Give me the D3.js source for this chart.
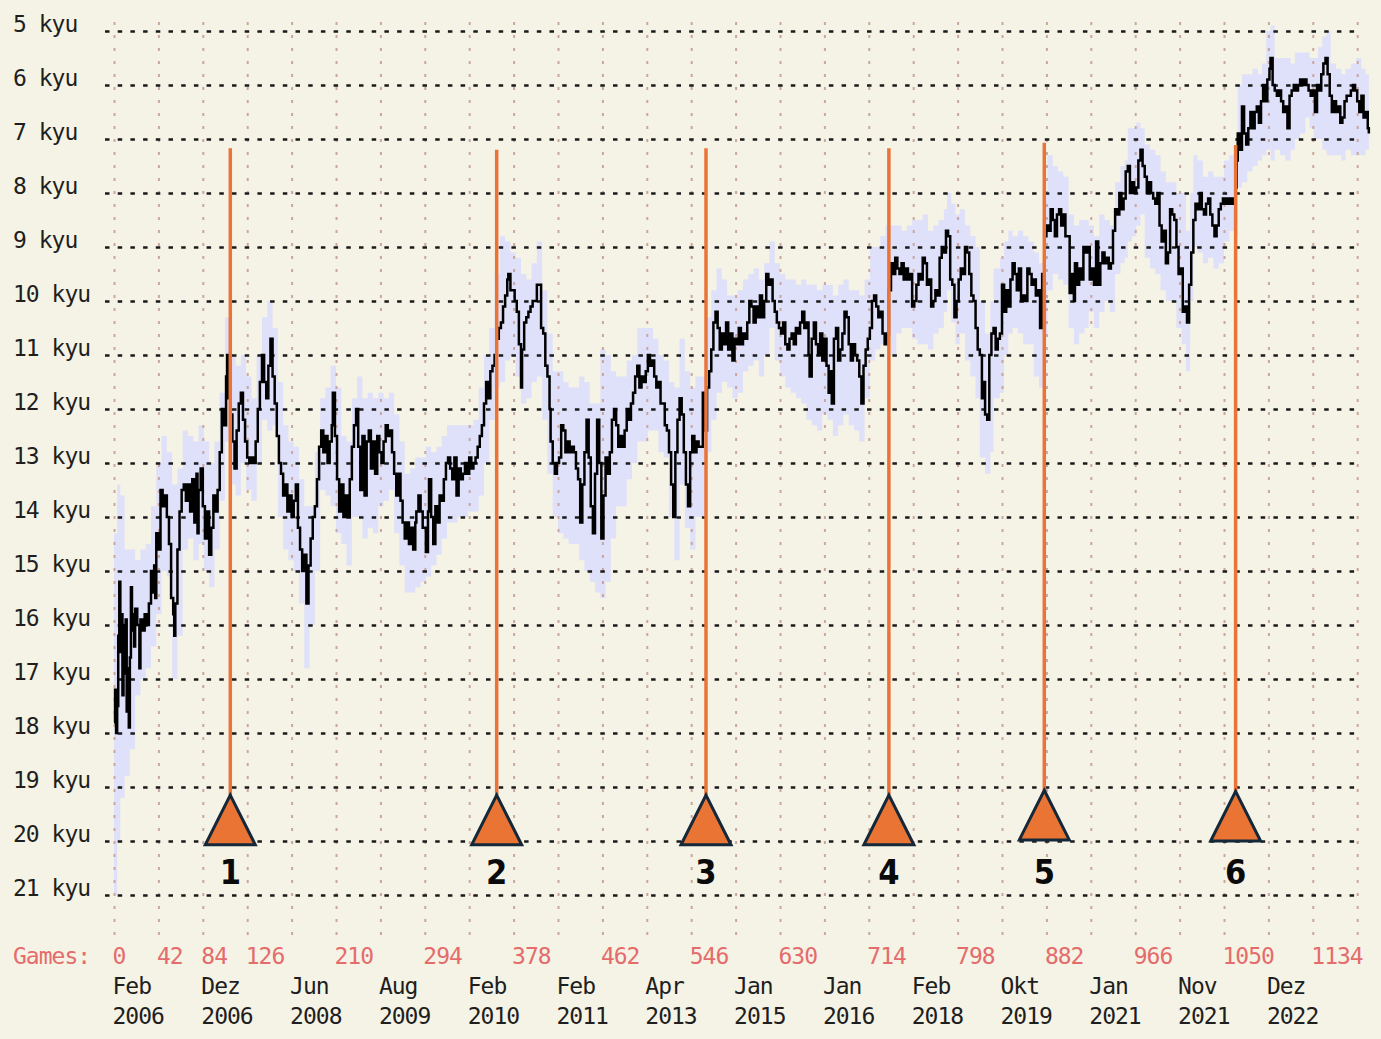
<!DOCTYPE html>
<html>
<head>
<meta charset="utf-8">
<script src="https://cdn.jsdelivr.net/npm/d3@7"></script>
<style>
	body { margin: 0; background: #f5f3e5; }
	svg { display: block; }
	.lbl { font-family: "DejaVu Sans Mono", monospace; font-size: 23px; letter-spacing: -1px; }
</style>
</head>
<body>
<div id="graphicContainer"></div>
<script>

// rank history: [game number, rank in kyu]
var rating = [
	[0,17.8],[1,17.2],[2,18.0],[3,17.5],[4,16.2],[5,15.2],[6,16.5],[7,15.8],[8,17.3],[9,16.0],[10,16.9],[11,15.9],[12,17.6],[13,16.8],[14,17.9],[15,16.6],[16,15.3],[17,16.1],[18,15.8],[19,16.4],[20,15.7],[22,16.0],[24,16.8],[25,15.9],[27,16.1],[29,15.8],[31,16.0],[33,15.6],[35,15.0],[36,15.4],[38,14.9],[39,15.5],[40,14.3],[42,14.6],[44,13.5],[46,13.8],[48,13.6],[50,14.0],[52,14.5],[54,15.5],[56,15.8],[57,16.2],[58,15.6],[60,14.6],[62,13.9],[64,13.5],[66,13.4],[68,13.7],[70,13.4],[72,13.9],[74,13.3],[76,14.1],[78,13.2],[79,14.3],[80,13.5],[82,13.1],[84,13.8],[86,14.4],[88,13.9],[90,14.7],[92,14.2],[94,13.6],[96,13.9],[98,13.5],
	[100,12.8],[102,12.0],[104,12.3],[106,11.4],[107,11.0],[108,11.8],[110,12.1],[112,12.6],[114,13.1],[116,12.4],[118,11.9],[120,11.7],[122,12.2],[124,12.6],[126,12.9],[128,13.0],[130,12.9],[132,13.0],[134,12.6],[136,12.0],[138,11.5],[140,11.0],[142,11.5],[144,11.8],[146,11.2],[148,10.7],[150,11.4],[152,11.9],[154,12.5],[156,13.0],[158,13.2],[160,13.6],[162,13.4],[164,13.9],[166,13.6],[168,14.0],[170,13.7],[172,13.4],[174,14.2],[176,14.6],[178,15.0],[180,14.7],[182,15.6],[184,14.9],[186,14.4],[188,14.0],[190,13.8],[192,13.3],[194,12.7],[196,12.4],[198,12.8],
	[200,12.5],[202,13.0],[204,12.6],[206,12.3],[207,11.7],[209,12.5],[211,13.3],[213,13.9],[215,13.4],[217,14.0],[219,13.6],[221,14.0],[223,13.3],[225,12.7],[227,12.3],[229,12.0],[231,12.7],[233,13.5],[235,12.5],[237,13.6],[239,12.6],[241,12.4],[243,13.1],[245,12.6],[247,13.2],[249,12.5],[251,12.8],[253,13.0],[255,12.6],[257,12.3],[259,12.5],[261,12.4],[263,12.8],[265,13.2],[267,13.6],[269,13.2],[271,13.7],[273,14.1],[275,14.4],[277,14.1],[279,14.5],[281,14.2],[283,14.6],[285,14.1],[286,13.9],[288,13.6],[290,13.9],[292,14.2],[295,14.65],[297,13.9],[298,13.3],
	[300,14.0],[302,14.5],[304,13.8],[306,14.1],[308,13.6],[310,13.7],[312,13.3],[314,13.0],[316,12.9],[318,13.1],[320,13.3],[322,12.9],[324,13.6],[326,13.1],[328,13.3],[330,13.2],[332,13.0],[334,13.2],[336,12.9],[338,13.1],[340,13.0],[342,12.9],[344,12.7],[346,12.5],[348,12.3],[350,11.9],[352,11.5],[354,11.8],[356,11.3],[358,11.2],[360,11.0],[362,10.7],[364,10.5],[366,10.4],[368,10.1],[370,9.9],[372,9.6],[373,9.5],[375,9.8],[377,9.8],[379,10.0],[381,10.2],[383,10.8],[385,11.6],[386,10.9],[388,10.4],[390,10.3],[392,10.2],[394,10.1],[396,10.0],[398,10.0],
	[400,9.7],[402,9.7],[404,10.5],[406,10.6],[408,11.2],[410,11.4],[412,12.0],[413,12.6],[415,13.0],[417,13.2],[419,13.0],[421,12.9],[423,12.3],[425,12.4],[427,12.8],[429,12.6],[431,12.8],[433,12.7],[435,12.8],[437,13.1],[439,13.3],[441,14.1],[443,13.4],[445,12.8],[447,12.2],[449,12.9],[451,13.8],[453,14.3],[455,13.2],[457,12.2],[459,13.0],[461,14.4],[463,13.6],[465,12.9],[467,13.2],[469,12.8],[471,12.2],[473,12.0],[475,12.3],[477,12.7],[479,12.5],[481,12.7],[483,12.4],[485,12.0],[487,12.2],[489,11.9],[491,11.7],[493,11.4],[495,11.2],[497,11.6],[499,11.4],
	[501,11.5],[503,11.3],[505,11.0],[507,11.2],[509,11.1],[511,11.4],[513,11.6],[515,11.5],[517,11.9],[519,11.9],[521,12.3],[523,12.4],[525,12.8],[527,13.4],[529,14.0],[531,12.8],[533,12.2],[535,11.8],[537,12.1],[539,12.8],[541,13.4],[543,13.8],[545,12.8],[547,12.5],[549,12.8],[551,12.6],[553,12.7],[555,12.7],[557,11.7],[559,12.4],[561,11.6],[563,11.3],[565,10.9],[567,10.4],[569,10.2],[571,10.5],[573,10.9],[575,10.6],[577,10.8],[579,10.4],[581,10.9],[583,10.6],[585,11.1],[587,10.7],[589,10.8],[591,10.5],[593,10.8],[595,10.6],[597,10.7],[599,10.4],
	[601,10.0],[603,10.1],[605,10.4],[607,10.1],[609,10.3],[611,9.9],[613,10.3],[615,10.0],[617,9.5],[619,9.7],[621,9.6],[623,10.0],[625,10.2],[627,10.4],[629,10.5],[631,10.6],[633,10.4],[635,10.8],[637,10.9],[639,10.7],[641,10.6],[643,10.8],[645,10.5],[647,10.6],[649,10.4],[651,10.2],[653,10.5],[655,10.4],[657,11.0],[658,11.4],[660,10.7],[662,10.4],[664,10.8],[666,11.0],[668,10.6],[670,11.1],[672,10.7],[674,11.2],[676,11.7],[678,11.3],[679,11.9],[681,10.7],[683,10.5],[685,11.1],[687,10.9],[689,10.6],[691,10.2],[693,10.3],[695,10.8],[697,11.1],[699,10.8],
	[701,11.0],[703,11.1],[705,11.4],[707,11.9],[709,11.2],[711,10.9],[713,10.7],[715,10.5],[717,10.0],[719,9.9],[721,10.1],[723,10.3],[725,10.2],[727,10.6],[729,10.8],[731,10.6],[733,9.8],[735,9.3],[737,9.5],[739,9.2],[741,9.4],[743,9.5],[745,9.3],[747,9.6],[749,9.4],[751,9.6],[753,9.5],[755,10.1],[757,10.0],[759,9.7],[761,9.5],[763,9.6],[765,9.2],[767,9.3],[769,9.7],[771,9.6],[773,10.1],[775,10.0],[777,9.8],[779,9.9],[781,9.2],[783,9.0],[785,9.1],[787,8.7],[789,8.8],[791,9.6],[793,9.7],[795,10.3],[797,10.0],[799,9.6],
	[801,9.4],[803,9.5],[805,9.0],[807,9.1],[809,9.5],[811,9.9],[813,10.0],[815,10.5],[817,10.9],[819,11.0],[821,11.8],[823,11.5],[824,12.1],[826,12.2],[828,11.0],[830,10.6],[832,10.5],[834,10.9],[836,10.7],[838,10.6],[840,9.7],[842,10.2],[844,9.8],[846,10.1],[848,9.6],[850,9.3],[852,9.5],[854,9.8],[856,9.4],[858,10.0],[860,9.9],[862,10.0],[864,9.4],[866,9.5],[868,9.7],[870,9.6],[872,9.9],[874,9.8],[876,10.5],[878,9.5],[880,8.8],[882,8.6],[884,8.7],[886,8.3],[888,8.5],[890,8.8],[892,8.4],[894,8.3],[896,8.6],[898,8.4],
	[900,8.8],[902,8.8],[904,9.85],[906,9.5],[908,10.0],[909,9.3],[911,9.7],[913,9.4],[915,9.6],[917,9.0],[919,9.1],[921,9.0],[923,9.6],[925,9.4],[927,9.7],[929,8.9],[931,9.7],[933,9.3],[935,9.1],[937,9.3],[939,9.2],[941,9.4],[943,9.3],[945,8.7],[947,8.3],[949,8.4],[951,8.0],[953,8.3],[955,8.1],[957,7.6],[959,7.5],[961,8.0],[963,7.8],[965,8.0],[967,7.9],[969,7.4],[971,7.2],[973,7.5],[975,7.7],[977,8.0],[979,7.8],[981,8.0],[983,8.1],[985,8.2],[987,8.0],[989,8.6],[991,8.9],[993,8.7],[995,9.3],[997,9.1],[999,8.3],
	[1001,8.4],[1003,8.5],[1005,9.0],[1007,9.5],[1009,9.4],[1011,10.2],[1013,10.1],[1015,10.4],[1017,9.7],[1019,9.1],[1021,8.5],[1023,8.2],[1025,8.3],[1027,8.0],[1029,8.3],[1031,8.4],[1033,8.2],[1035,8.1],[1037,8.4],[1039,8.6],[1041,8.8],[1043,8.6],[1045,8.3],[1047,8.2],[1049,8.1],[1051,8.2],[1053,8.1],[1055,8.2],[1057,8.1],[1059,8.2],[1061,7.9],[1062,7.4],[1063,6.9],[1065,7.2],[1067,6.4],[1069,6.9],[1071,7.1],[1073,6.8],[1075,6.5],[1077,6.8],[1079,6.5],[1081,6.4],[1083,6.7],[1085,6.3],[1087,6.0],[1089,6.3],[1091,5.9],[1093,5.7],[1094,5.5],[1096,6.0],[1098,6.1],
	[1100,6.2],[1102,6.1],[1104,6.3],[1106,6.5],[1108,6.4],[1110,6.8],[1112,6.2],[1114,6.1],[1116,6.0],[1118,6.1],[1120,6.0],[1122,5.9],[1124,6.0],[1126,5.9],[1128,6.0],[1130,6.1],[1132,6.2],[1134,6.1],[1136,6.5],[1138,6.0],[1140,6.1],[1142,5.8],[1144,5.6],[1146,5.5],[1148,5.8],[1150,6.2],[1152,6.5],[1154,6.3],[1156,6.5],[1158,6.4],[1160,6.7],[1162,6.6],[1164,6.3],[1166,6.2],[1168,6.2],[1170,6.1],[1172,6.0],[1174,6.1],[1176,6.3],[1178,6.5],[1180,6.2],[1182,6.6],[1184,6.5],[1186,6.8],[1187,6.9]
]

// uncertainty band: [game, strongest kyu, weakest kyu]
var band = [
	[0,14.3,21.0],[3,13.4,20.0],[6,13.6,19.2],[10,14.6,18.8],[15,14.6,18.3],[20,14.8,17.3],[25,14.6,17.0],[30,14.5,16.8],[35,13.8,16.4],[40,13.0,15.8],[45,12.5,15.0],[50,12.8,15.1],[55,13.4,17.0],[60,13.1,16.2],[65,12.4,14.6],[70,12.5,14.4],[75,12.6,14.8],[80,12.3,14.5],[85,12.6,15.0],[90,13.0,15.3],[95,12.6,14.6],
	[100,11.7,13.7],[105,10.3,12.6],[110,11.0,13.4],[115,11.2,13.6],[120,11.0,13.0],[125,11.4,13.5],[130,11.8,13.7],[135,11.0,13.0],[140,10.3,12.2],[145,10.0,12.4],[150,10.5,12.3],[155,11.5,14.0],[160,12.3,14.6],[165,12.6,14.8],[170,12.7,15.0],[175,13.3,15.6],[180,13.8,16.8],[185,13.8,16.0],[190,12.8,15.0],[195,11.8,13.5],
	[200,11.6,13.6],[205,11.2,13.8],[210,11.6,14.3],[215,12.5,14.5],[220,12.6,14.9],[225,11.8,14.0],[230,11.4,14.0],[235,11.8,14.4],[240,11.7,14.2],[245,11.8,14.3],[250,11.7,13.8],[255,11.8,13.7],[260,11.7,13.5],[265,12.1,14.3],[270,12.6,14.9],[275,13.2,15.4],[280,13.1,15.4],[285,12.9,15.3],[290,12.9,15.2],[295,12.7,15.1],
	[300,12.8,14.9],[305,12.7,14.7],[310,12.5,14.4],[315,12.3,14.1],[320,12.3,14.1],[325,12.3,14.0],[330,12.3,14.0],[335,12.3,13.9],[340,12.2,13.9],[345,11.6,13.6],[350,11.0,13.0],[355,10.5,12.2],[360,9.5,11.6],[365,8.8,11.5],[370,8.9,11.1],[375,9.1,11.0],[380,9.2,11.4],[385,9.5,11.9],[390,9.6,11.8],[395,9.3,11.5],
	[400,8.9,11.4],[405,9.8,12.2],[410,10.6,13.2],[415,11.3,14.0],[420,11.3,14.3],[425,11.5,14.4],[430,11.6,14.5],[435,11.6,14.5],[440,11.4,14.8],[445,11.5,15.0],[450,11.9,15.2],[455,11.9,15.4],[460,10.9,15.5],[465,11.0,15.2],[470,11.3,14.4],[475,11.4,13.8],[480,11.4,13.8],[485,11.1,13.3],[490,11.0,13.0],[495,10.5,12.6],
	[500,10.5,12.6],[505,10.5,12.4],[510,10.7,12.4],[515,11.0,12.8],[520,11.1,12.9],[525,11.5,14.0],[530,11.6,14.8],[535,10.7,13.4],[540,11.3,14.2],[545,11.6,14.6],[550,11.4,14.0],[555,11.4,14.0],[560,10.3,12.8],[565,9.8,12.2],[570,9.4,11.7],[575,9.6,11.5],[580,9.9,11.6],[585,9.9,11.8],[590,9.8,11.7],[595,9.6,11.3],
	[600,9.5,11.2],[605,9.4,11.1],[610,9.6,11.4],[615,9.3,11.0],[620,8.9,10.5],[625,9.3,11.1],[630,9.5,11.4],[635,9.6,11.6],[640,9.6,11.7],[645,9.7,11.8],[650,9.6,11.9],[655,9.7,12.2],[660,9.7,12.3],[665,9.8,12.4],[670,9.7,12.1],[675,9.7,12.2],[680,9.9,12.5],[685,9.7,12.3],[690,9.6,12.1],[695,9.8,12.3],
	[700,9.8,12.4],[705,9.9,12.6],[710,9.6,11.8],[715,9.0,11.1],[720,9.0,10.9],[725,8.8,10.8],[730,8.6,10.7],[735,8.6,11.0],[740,8.6,10.6],[745,8.7,10.5],[750,8.6,10.5],[755,8.5,10.7],[760,8.5,10.8],[765,8.4,10.8],[770,8.7,10.9],[775,8.6,10.6],[780,8.5,10.5],[785,8.3,10.2],[788,8.0,9.8],[792,8.2,10.4],[796,8.4,10.8],
	[800,8.3,10.6],[805,8.6,11.1],[810,8.8,11.4],[815,9.0,11.8],[819,10.0,12.9],[824,10.6,13.2],[829,10.0,12.8],[832,9.4,11.8],[838,9.2,11.7],[842,8.9,11.0],[846,8.7,10.6],[850,8.8,10.5],[855,8.7,10.6],[860,8.8,10.8],[865,8.9,10.8],[870,9.1,11.4],[875,9.3,11.6],[880,8.0,10.6],[883,7.3,9.8],[888,7.5,9.5],[893,7.6,9.6],[898,7.7,9.7],
	[903,8.4,10.5],[908,8.6,10.8],[913,8.5,10.6],[918,8.5,10.5],[922,8.6,10.2],[927,8.8,10.5],[932,8.4,10.2],[937,8.5,10.0],[942,8.6,10.2],[947,7.8,9.5],[952,7.5,9.3],[956,7.4,9.2],[959,6.8,8.9],[963,6.8,8.8],[967,6.7,8.6],[971,6.8,8.4],[975,7.1,9.2],[980,7.2,9.4],[985,7.3,9.5],[990,7.6,9.8],[995,7.8,10.0],
	[1000,7.8,10.0],[1005,8.0,10.5],[1010,8.0,10.8],[1014,8.7,11.3],[1018,8.0,10.0],[1021,7.3,9.0],[1025,7.4,9.1],[1030,7.7,9.3],[1035,7.6,9.2],[1040,7.7,9.4],[1045,7.7,9.3],[1050,7.4,8.9],[1055,7.3,8.7],[1060,7.5,8.8],[1063,6.0,7.9],[1067,5.8,7.8],[1072,5.8,7.6],[1077,5.7,7.5],[1082,5.8,7.4],[1086,5.6,7.3],[1090,5.0,7.2],[1094,4.9,7.4],[1098,5.5,7.2],
	[1103,5.5,7.3],[1108,5.5,7.4],[1113,5.6,7.2],[1117,5.4,7.0],[1122,5.4,6.9],[1127,5.4,6.6],[1131,5.5,6.8],[1135,5.5,7.0],[1139,5.3,7.0],[1143,5.1,7.2],[1147,5.0,7.3],[1151,5.6,7.3],[1156,5.7,7.3],[1161,5.8,7.4],[1165,5.7,7.2],[1170,5.6,7.3],[1175,5.5,7.3],[1180,5.7,7.3],[1184,5.8,7.2],[1187,6.3,7.5]
]

var kyuTicks = d3.range(5, 22)
var gridGames = d3.range(0, 1177, 42)
var gameLabels = [0, 42, 84, 126, 210, 294, 378, 462, 546, 630, 714, 798, 882, 966, 1050, 1134]
var dateGames = d3.range(0, 1093, 84)
var dateMonths = ["Feb", "Dez", "Jun", "Aug", "Feb", "Feb", "Apr", "Jan", "Jan", "Feb", "Okt", "Jan", "Nov", "Dez"]
var dateYears = ["2006", "2006", "2008", "2009", "2010", "2011", "2013", "2015", "2016", "2018", "2019", "2021", "2021", "2022"]

// numbered events
var markerGames = [110, 362, 560, 733, 880, 1061]
var markerTop = [7.17, 7.2, 7.17, 7.17, 7.07, 7.11]
var markerApex = [19.15, 19.15, 19.15, 19.15, 19.06, 19.08]
var markerBase = [20.07, 20.07, 20.07, 20.07, 19.98, 20.0]
var markerLabels = ["1", "2", "3", "4", "5", "6"]

function init() {

	var width = 1381
	var height = 1039

	var svg = d3.select("#graphicContainer").append("svg")
		.attr("width", width)
		.attr("height", height)

	svg.append("rect").attr("width", width).attr("height", height).attr("fill", "#f5f3e5")

	var x = d3.scaleLinear().domain([0, 1176]).range([114, 1357.2])
	var y = d3.scaleLinear().domain([5, 21]).range([31, 895])

	// uncertainty band
	var area = d3.area()
		.x(d => x(d[0]))
		.y0(d => y(d[2]))
		.y1(d => y(d[1]))
		.curve(d3.curveStepAfter)

	svg.append("path")
		.datum(band)
		.attr("d", area)
		.attr("fill", "#dfe0fa")

	// vertical grid
	var vGrid = svg.append("g")
		.attr("transform", "translate(0,935)")
		.call(d3.axisBottom(x).tickValues(gridGames).tickSize(-915).tickFormat(""))
	vGrid.select(".domain").remove()
	vGrid.selectAll("line")
		.attr("stroke", "#c9a6a0")
		.attr("stroke-width", 2)
		.attr("stroke-dasharray", "3,10")

	// horizontal grid
	var hGrid = svg.append("g")
		.attr("transform", "translate(105,0)")
		.call(d3.axisLeft(y).tickValues(kyuTicks).tickSize(-1253).tickFormat(""))
	hGrid.select(".domain").remove()
	hGrid.selectAll("line")
		.attr("stroke", "#1a1a1a")
		.attr("stroke-width", 2.5)
		.attr("stroke-dasharray", "4.5,8.2")

	// rank line
	var line = d3.line()
		.x(d => x(d[0]))
		.y(d => y(d[1]))
		.curve(d3.curveStepAfter)

	svg.append("path")
		.datum(rating)
		.attr("d", line)
		.attr("fill", "none")
		.attr("stroke", "#000")
		.attr("stroke-width", 2.5)

	// y labels
	var yAxis = svg.append("g")
		.call(d3.axisLeft(y).tickValues(kyuTicks).tickSize(0).tickFormat(d => d + " kyu"))
	yAxis.attr("font-family", null).attr("font-size", null)
	yAxis.select(".domain").remove()
	yAxis.selectAll("text")
		.attr("class", "lbl")
		.attr("x", 13)
		.attr("dy", 0)
		.attr("text-anchor", "start")
		.attr("fill", "#1e1e1e")

	// games axis
	var gAxis = svg.append("g")
		.attr("transform", "translate(0,964)")
		.call(d3.axisBottom(x).tickValues(gameLabels).tickSize(0).tickFormat(d3.format("d")))
	gAxis.attr("font-family", null).attr("font-size", null)
	gAxis.select(".domain").remove()
	gAxis.selectAll("text")
		.attr("class", "lbl")
		.attr("y", 0).attr("dy", 0).attr("dx", -2)
		.attr("text-anchor", "start")
		.attr("fill", "#e46c6c")

	svg.append("text")
		.attr("class", "lbl")
		.attr("x", 13).attr("y", 964)
		.attr("fill", "#e46c6c")
		.text("Games:")

	// date axis
	var dAxis = svg.append("g")
		.attr("transform", "translate(0,994)")
		.call(d3.axisBottom(x).tickValues(dateGames).tickSize(0).tickFormat(""))
	dAxis.attr("font-family", null).attr("font-size", null)
	dAxis.select(".domain").remove()
	dAxis.selectAll("text").each(function(d, i) {
		var t = d3.select(this)
			.attr("class", "lbl")
			.attr("y", 0).attr("dy", 0)
			.attr("text-anchor", "start")
			.attr("fill", "#1e1e1e")
		t.append("tspan").attr("x", -2).attr("y", 0).text(dateMonths[i])
		t.append("tspan").attr("x", -2).attr("y", 30).text(dateYears[i])
	})

	// event markers
	var markers = svg.append("g")
		.selectAll("g")
		.data(markerGames)
		.enter()
		.append("g")

	markers.append("line")
		.attr("x1", d => x(d))
		.attr("x2", d => x(d))
		.attr("y1", (d, i) => y(markerTop[i]))
		.attr("y2", (d, i) => y(markerApex[i]))
		.attr("stroke", "#ea7438")
		.attr("stroke-width", 3.5)

	markers.append("path")
		.attr("d", function(d, i) {
			var cx = x(d)
			return "M" + cx + "," + y(markerApex[i]) + "L" + (cx + 25) + "," + y(markerBase[i]) + "L" + (cx - 25) + "," + y(markerBase[i]) + "Z"
		})
		.attr("fill", "#e97434")
		.attr("stroke", "#14283a")
		.attr("stroke-width", 3)

	markers.append("text")
		.attr("x", d => x(d))
		.attr("y", y(20.8))
		.attr("text-anchor", "middle")
		.style("font-family", "'DejaVu Sans Condensed', 'DejaVu Sans', sans-serif")
		.style("font-weight", "bold")
		.style("font-size", "34px")
		.attr("fill", "#0a0a0a")
		.text((d, i) => markerLabels[i])
}

init()

</script>
</body>
</html>
